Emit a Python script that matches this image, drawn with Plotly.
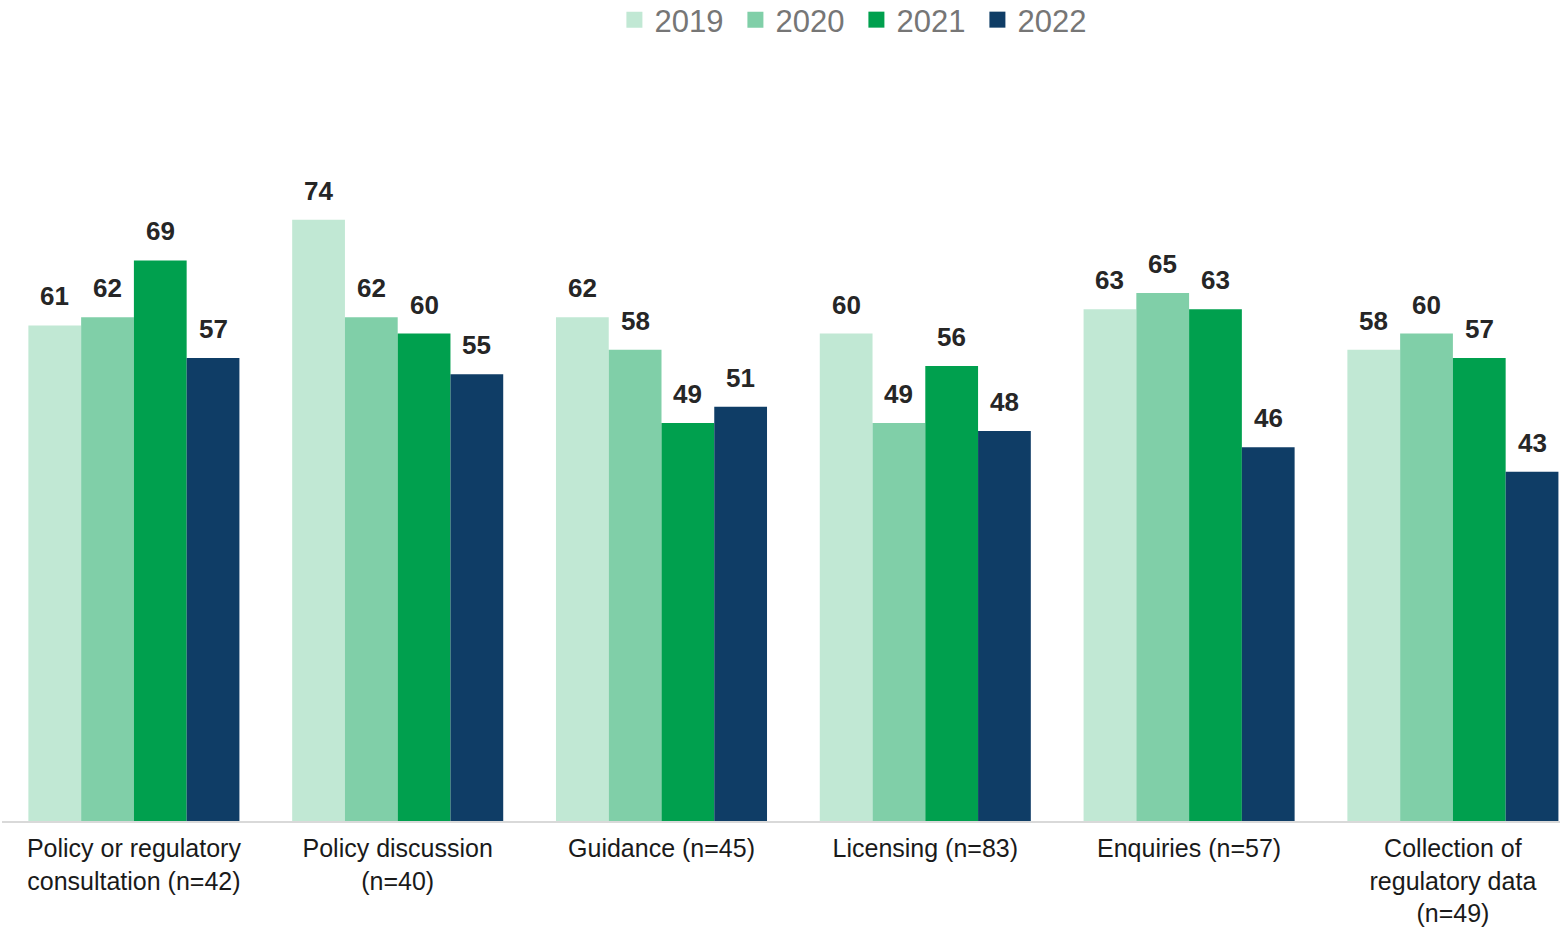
import plotly.graph_objects as go

categories = [
    "Policy or regulatory<br>consultation (n=42)",
    "Policy discussion<br>(n=40)",
    "Guidance (n=45)",
    "Licensing (n=83)",
    "Enquiries (n=57)",
    "Collection of<br>regulatory data<br>(n=49)",
]
years = ["2019", "2020", "2021", "2022"]
values_2019 = [61, 74, 62, 60, 63, 58]
values_2020 = [62, 62, 58, 49, 65, 60]
values_2021 = [69, 60, 49, 56, 63, 57]
values_2022 = [57, 55, 51, 48, 46, 43]
colors = ["#C1E8D4", "#80CFA8", "#00A04E", "#0F3D66"]

series = [values_2019, values_2020, values_2021, values_2022]

# geometry used to place the value labels over each bar in a group
W, H = 1562, 930
margin = dict(l=2, r=2, t=171, b=109)
x_range = [-0.5, 5.406]
bargap = 0.2
px_per_cat = (W - margin["l"] - margin["r"]) / (x_range[1] - x_range[0])
bar_px = px_per_cat * (1 - bargap) / len(series)

fig = go.Figure()
for i, (year, vals, col) in enumerate(zip(years, series, colors)):
    fig.add_trace(go.Bar(
        name=year,
        x=categories,
        y=vals,
        marker=dict(color=col, line=dict(width=0)),
        showlegend=False,
    ))
    # legend entry with a larger square swatch
    fig.add_trace(go.Scatter(
        name=year,
        x=[None],
        y=[None],
        mode="markers",
        marker=dict(symbol="square", size=16, color=col),
        showlegend=True,
    ))
    xshift = (i - (len(series) - 1) / 2) * bar_px
    for cat, v in zip(categories, vals):
        fig.add_annotation(
            x=cat, y=v, text=str(v),
            showarrow=False,
            xanchor="center", yanchor="bottom",
            xshift=xshift, yshift=12,
            font=dict(family="Liberation Sans, Arial", size=26, color="#262626", weight="bold"),
        )

fig.update_layout(
    barmode="group",
    bargap=bargap,
    bargroupgap=0,
    width=W,
    height=H,
    margin=margin,
    plot_bgcolor="white",
    paper_bgcolor="white",
    font=dict(family="Liberation Sans, Arial"),
    legend=dict(
        orientation="h",
        x=0.5484,
        xanchor="center",
        yref="container",
        y=1 - 20 / H,
        yanchor="middle",
        font=dict(size=31, color="#767676"),
        itemwidth=30,
        traceorder="normal",
        entrywidthmode="pixels",
        entrywidth=76,
    ),
    xaxis=dict(
        range=x_range,
        automargin=False,
        showline=True,
        linecolor="#D9D9D9",
        linewidth=2,
        ticks="",
        tickfont=dict(size=25, color="#1A1A1A"),
        ticklabelstandoff=4,
        showgrid=False,
    ),
    yaxis=dict(
        range=[0, 80],
        visible=False,
        automargin=False,
        showgrid=False,
    ),
)

fig.write_html("out.html")
